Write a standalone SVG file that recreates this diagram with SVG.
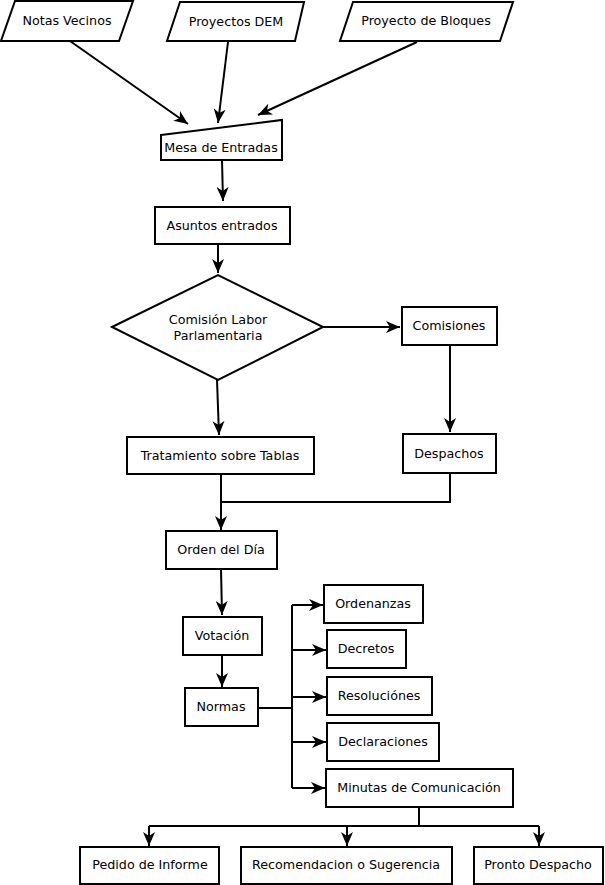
<svg xmlns="http://www.w3.org/2000/svg" width="605" height="885" viewBox="0 0 605 885">
<defs>
<marker id="arr" viewBox="0 0 14 12" refX="14" refY="6" markerWidth="14" markerHeight="12" markerUnits="userSpaceOnUse" orient="auto">
<path d="M0,0 L14,6 L0,12 L4,6 Z" fill="#000"/>
</marker>
<style>
.n{fill:#fff;stroke:#000;stroke-width:2}
.t{font-family:"DejaVu Sans","Liberation Sans",sans-serif;font-size:12.7px;fill:#000;text-anchor:middle}
.c{fill:none;stroke:#000;stroke-width:2}
.a{marker-end:url(#arr)}
</style>
</defs>
<rect width="605" height="885" fill="#fff"/>
<g id="connectors">
<line class="c a" x1="70" y1="41" x2="188" y2="124"/>
<line class="c a" x1="228" y1="42" x2="218" y2="123"/>
<line class="c a" x1="417" y1="42" x2="258" y2="115"/>
<line class="c a" x1="222" y1="160" x2="223" y2="201"/>
<line class="c a" x1="218" y1="244" x2="218" y2="273"/>
<line class="c a" x1="323" y1="327" x2="400" y2="327"/>
<line class="c a" x1="450" y1="345" x2="450" y2="432"/>
<line class="c a" x1="217" y1="380" x2="219" y2="435"/>
<polyline class="c" points="450,473 450,502 221,502"/>
<line class="c a" x1="221" y1="474" x2="221" y2="530"/>
<line class="c a" x1="221" y1="569" x2="222" y2="615"/>
<line class="c a" x1="222" y1="655" x2="222" y2="687"/>
<polyline class="c" points="258,708 292,708"/>
<line class="c" x1="292" y1="605" x2="292" y2="788"/>
<line class="c a" x1="292" y1="605" x2="323" y2="605"/>
<line class="c a" x1="292" y1="650" x2="326" y2="650"/>
<line class="c a" x1="292" y1="697" x2="326" y2="697"/>
<line class="c a" x1="292" y1="742" x2="326" y2="742"/>
<line class="c a" x1="292" y1="788" x2="325" y2="788"/>
<line class="c" x1="419" y1="807" x2="419" y2="826"/>
<line class="c" x1="149" y1="826" x2="539" y2="826"/>
<line class="c a" x1="149" y1="826" x2="149" y2="846"/>
<line class="c a" x1="347" y1="826" x2="347" y2="846"/>
<line class="c a" x1="539" y1="826" x2="539" y2="846"/>
</g>
<g id="notas-vecinos"><polygon class="n" points="15,1 133,1 119,41 1,41"/><text class="t" x="67" y="25">Notas Vecinos</text></g>
<g id="proyectos-dem"><polygon class="n" points="180,2 304,2 295,41 167,41"/><text class="t" x="236" y="26">Proyectos DEM</text></g>
<g id="proyecto-bloques"><polygon class="n" points="353,2 513,2 500,41 340,41"/><text class="t" x="426" y="25">Proyecto de Bloques</text></g>
<g id="mesa-entradas"><polygon class="n" points="161,135 282,120 282,160 161,160"/><text class="t" x="221" y="152">Mesa de Entradas</text></g>
<g id="asuntos-entrados"><rect class="n" x="155" y="207" width="135" height="37"/><text class="t" x="222" y="230">Asuntos entrados</text></g>
<g id="comision-labor"><polygon class="n" points="112,327 218,275 323,327 218,380"/><text class="t" x="218" y="324">Comisión Labor</text><text class="t" x="218" y="340">Parlamentaria</text></g>
<g id="comisiones"><rect class="n" x="402" y="307" width="95" height="38"/><text class="t" x="449" y="330">Comisiones</text></g>
<g id="despachos"><rect class="n" x="403" y="434" width="93" height="39"/><text class="t" x="449" y="458">Despachos</text></g>
<g id="tratamiento"><rect class="n" x="127" y="437" width="187" height="37"/><text class="t" x="220" y="460">Tratamiento sobre Tablas</text></g>
<g id="orden-dia"><rect class="n" x="166" y="531" width="111" height="38"/><text class="t" x="221" y="554">Orden del Día</text></g>
<g id="votacion"><rect class="n" x="183" y="617" width="79" height="38"/><text class="t" x="222" y="640">Votación</text></g>
<g id="normas"><rect class="n" x="185" y="688" width="73" height="38"/><text class="t" x="221" y="711">Normas</text></g>
<g id="ordenanzas"><rect class="n" x="324" y="585" width="99" height="38"/><text class="t" x="373" y="608">Ordenanzas</text></g>
<g id="decretos"><rect class="n" x="327" y="630" width="79" height="38"/><text class="t" x="366" y="653">Decretos</text></g>
<g id="resoluciones"><rect class="n" x="327" y="677" width="105" height="38"/><text class="t" x="379" y="700">Resoluciónes</text></g>
<g id="declaraciones"><rect class="n" x="327" y="723" width="112" height="38"/><text class="t" x="383" y="746">Declaraciones</text></g>
<g id="minutas"><rect class="n" x="326" y="769" width="187" height="38"/><text class="t" x="419" y="792">Minutas de Comunicación</text></g>
<g id="pedido-informe"><rect class="n" x="80" y="847" width="139" height="37"/><text class="t" x="150" y="869">Pedido de Informe</text></g>
<g id="recomendacion"><rect class="n" x="241" y="847" width="211" height="37"/><text class="t" x="346" y="869">Recomendacion o Sugerencia</text></g>
<g id="pronto-despacho"><rect class="n" x="474" y="847" width="129" height="37"/><text class="t" x="538" y="869">Pronto Despacho</text></g>
</svg>
